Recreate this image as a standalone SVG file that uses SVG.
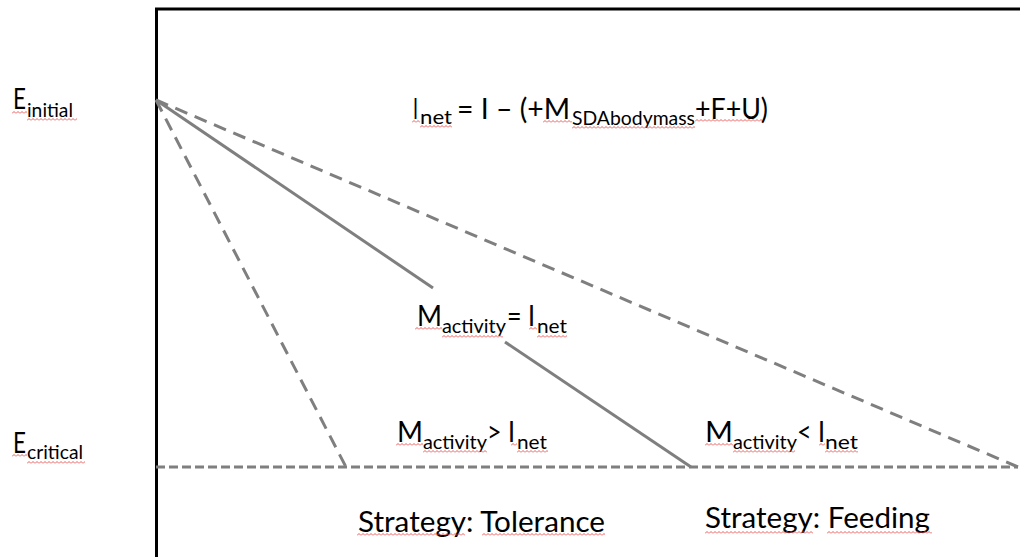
<svg xmlns="http://www.w3.org/2000/svg" xmlns:xlink="http://www.w3.org/1999/xlink" width="1020" height="557" viewBox="0 0 1020 557">
<defs>
<style>
.t{font-family:Lato,"Liberation Sans",sans-serif;fill:#000;}
.m{font-size:29px;}
.s{font-size:20px;}
.ln{stroke:#7f7f7f;stroke-width:3;fill:none;}
.dd{stroke-dasharray:13 8;}
.dh{stroke-dasharray:9 4;}
.fr{stroke:#000;stroke-width:3;fill:none;}
.w{fill:url(#wavy);}
</style>
<pattern id="wavy" patternUnits="userSpaceOnUse" width="4" height="3">
<path d="M0 2.5 L2 0.5 L4 2.5" stroke="#e84a4a" stroke-width="0.9" fill="none"/>
</pattern>
</defs>
<rect width="1020" height="557" fill="#fff"/>
<g id="frame">
<path class="fr" d="M156.5 557 V9 H1020"/>
</g>
<g id="connectors">
<line class="ln dh" x1="156" y1="467" x2="1018" y2="467"/>
<line class="ln dd" x1="156" y1="100" x2="346" y2="467"/>
<line class="ln dd" x1="156" y1="100" x2="1018" y2="467"/>
<line class="ln" x1="156" y1="100" x2="433" y2="288"/>
<line class="ln" x1="505" y1="342" x2="691" y2="467"/>
</g>
<g id="label-einitial">
<text class="t"><tspan class="m" x="13" y="109" textLength="13" lengthAdjust="spacingAndGlyphs">E</tspan><tspan class="s" x="27" y="117" textLength="46" lengthAdjust="spacingAndGlyphs">initial</tspan></text>
<rect class="w" transform="translate(12,111)" width="15" height="3"/>
<rect class="w" transform="translate(27,118)" width="50" height="3"/>
</g>
<g id="label-ecritical">
<text class="t"><tspan class="m" x="13" y="453" textLength="13" lengthAdjust="spacingAndGlyphs">E</tspan><tspan class="s" x="27" y="459" textLength="56" lengthAdjust="spacingAndGlyphs">critical</tspan></text>
<rect class="w" transform="translate(12,454)" width="15" height="3"/>
<rect class="w" transform="translate(27,461)" width="58" height="3"/>
</g>
<g id="label-equation">
<text class="t"><tspan class="m" x="413" y="119" textLength="5" lengthAdjust="spacingAndGlyphs">I</tspan><tspan class="s" x="420" y="124" textLength="32" lengthAdjust="spacingAndGlyphs">net</tspan><tspan class="m" x="457" y="119" textLength="113" lengthAdjust="spacingAndGlyphs">= I – (+M</tspan><tspan class="s" x="572" y="125" textLength="123" lengthAdjust="spacingAndGlyphs">SDAbodymass</tspan><tspan class="m" x="695" y="119" textLength="73" lengthAdjust="spacingAndGlyphs">+F+U)</tspan></text>
<rect class="w" transform="translate(412,120)" width="8" height="3"/>
<rect class="w" transform="translate(420,125)" width="32" height="3"/>
<rect class="w" transform="translate(543,120)" width="29" height="3"/>
<rect class="w" transform="translate(572,126)" width="123" height="3"/>
<rect class="w" transform="translate(695,119)" width="67" height="3"/>
</g>
<g id="label-equal">
<text class="t"><tspan class="m" x="417" y="326" textLength="25" lengthAdjust="spacingAndGlyphs">M</tspan><tspan class="s" x="442" y="333" textLength="64" lengthAdjust="spacingAndGlyphs">activity</tspan><tspan class="m" x="507" y="326" textLength="28" lengthAdjust="spacingAndGlyphs">= I</tspan><tspan class="s" x="537" y="333" textLength="30" lengthAdjust="spacingAndGlyphs">net</tspan></text>
<rect class="w" transform="translate(415,327)" width="27" height="3"/>
<rect class="w" transform="translate(442,335)" width="61" height="3"/>
<rect class="w" transform="translate(529,327)" width="8" height="3"/>
<rect class="w" transform="translate(537,335)" width="30" height="3"/>
</g>
<g id="label-greater">
<text class="t"><tspan class="m" x="397" y="442" textLength="26" lengthAdjust="spacingAndGlyphs">M</tspan><tspan class="s" x="423" y="449" textLength="64" lengthAdjust="spacingAndGlyphs">activity</tspan><tspan class="m" x="487" y="442" textLength="28" lengthAdjust="spacingAndGlyphs">&gt; I</tspan><tspan class="s" x="517" y="449" textLength="30" lengthAdjust="spacingAndGlyphs">net</tspan></text>
<rect class="w" transform="translate(396,443)" width="27" height="3"/>
<rect class="w" transform="translate(423,450)" width="64" height="3"/>
<rect class="w" transform="translate(511,443)" width="6" height="3"/>
<rect class="w" transform="translate(517,450)" width="31" height="3"/>
</g>
<g id="label-less">
<text class="t"><tspan class="m" x="705" y="442" textLength="28" lengthAdjust="spacingAndGlyphs">M</tspan><tspan class="s" x="733" y="449" textLength="64" lengthAdjust="spacingAndGlyphs">activity</tspan><tspan class="m" x="797" y="442" textLength="28" lengthAdjust="spacingAndGlyphs">&lt; I</tspan><tspan class="s" x="825" y="449" textLength="33" lengthAdjust="spacingAndGlyphs">net</tspan></text>
<rect class="w" transform="translate(705,443)" width="28" height="3"/>
<rect class="w" transform="translate(733,450)" width="62" height="3"/>
<rect class="w" transform="translate(819,443)" width="6" height="3"/>
<rect class="w" transform="translate(825,450)" width="33" height="3"/>
</g>
<g id="label-tolerance">
<text class="t m" x="358" y="532" textLength="247" lengthAdjust="spacingAndGlyphs">Strategy: Tolerance</text>
<rect class="w" transform="translate(357,533)" width="108" height="3"/>
<rect class="w" transform="translate(482,533)" width="123" height="3"/>
</g>
<g id="label-feeding">
<text class="t m" x="705" y="528" textLength="225" lengthAdjust="spacingAndGlyphs">Strategy: Feeding</text>
<rect class="w" transform="translate(705,531)" width="108" height="3"/>
<rect class="w" transform="translate(827,531)" width="105" height="3"/>
</g>
</svg>
